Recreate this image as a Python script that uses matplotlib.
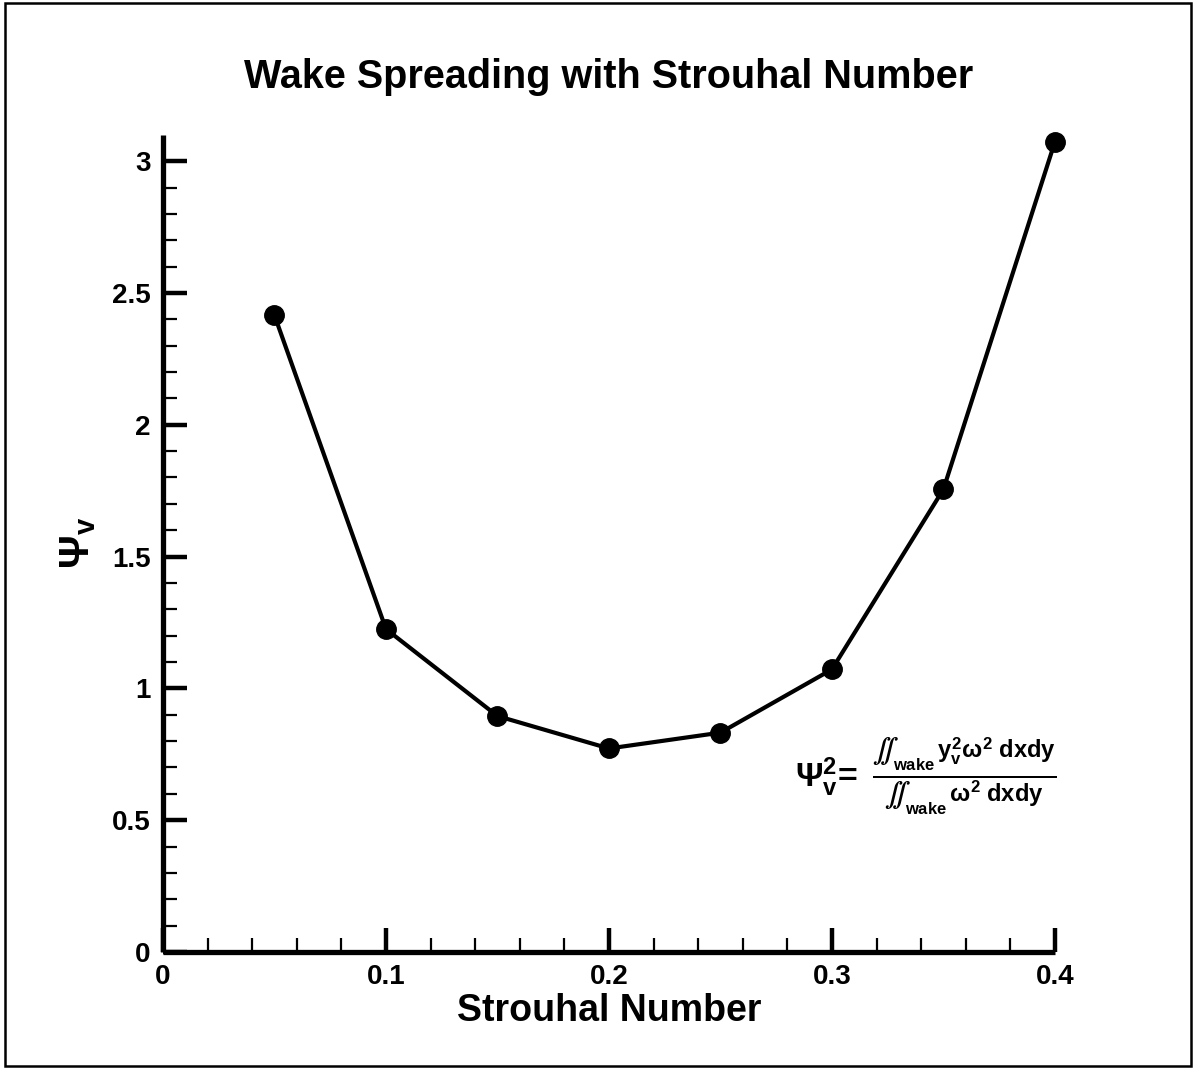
import matplotlib
matplotlib.use("Agg")
import matplotlib.pyplot as plt
from matplotlib.patches import Rectangle
from matplotlib.ticker import FixedLocator, FormatStrFormatter

plt.rcParams['font.family'] = ['Liberation Sans', 'DejaVu Sans']
plt.rcParams['font.weight'] = 'bold'
plt.rcParams['mathtext.fontset'] = 'custom'
plt.rcParams['mathtext.rm'] = 'Liberation Sans:bold'
plt.rcParams['mathtext.it'] = 'Liberation Sans:bold'
plt.rcParams['mathtext.bf'] = 'Liberation Sans:bold'
plt.rcParams['mathtext.sf'] = 'Liberation Sans:bold'

# Wake spreading parameter versus Strouhal number
strouhal = [0.05, 0.10, 0.15, 0.20, 0.25, 0.30, 0.35, 0.40]
psi_v = [2.415, 1.225, 0.895, 0.772, 0.832, 1.072, 1.755, 3.073]

x_ticks = [0.0, 0.1, 0.2, 0.3, 0.4]
y_ticks = [0.0, 0.5, 1.0, 1.5, 2.0, 2.5, 3.0]
x_minor = [i * 0.02 for i in range(21)]
y_minor = [i * 0.1 for i in range(31)]

fig = plt.figure(figsize=(11.96, 10.70), dpi=100)
ax = fig.add_axes([0.1363, 0.1103, 0.7457, 0.7637])

ax.plot(strouhal, psi_v, color='black', lw=3.0, marker='o', ms=14,
        mfc='black', mec='black', clip_on=False, zorder=3)

ax.set_xlim(0, 0.4)
ax.set_ylim(0, 3.1)

for side in ('top', 'right'):
    ax.spines[side].set_visible(False)
for side in ('left', 'bottom'):
    ax.spines[side].set_linewidth(3.8)
    ax.spines[side].set_capstyle('butt')

ax.set_xticks(x_ticks)
ax.set_yticks(y_ticks)
ax.xaxis.set_major_formatter(FormatStrFormatter('%g'))
ax.yaxis.set_major_formatter(FormatStrFormatter('%g'))
ax.xaxis.set_minor_locator(FixedLocator(x_minor))
ax.yaxis.set_minor_locator(FixedLocator(y_minor))
ax.tick_params(which='major', direction='in', length=17, width=3.2,
               labelsize=20, pad=9)
ax.tick_params(which='minor', direction='in', length=10, width=1.6)
for lab in ax.get_xticklabels() + ax.get_yticklabels():
    lab.set_fontweight('bold')

ax.set_xlabel('Strouhal Number', fontsize=27, fontweight='bold', labelpad=2)
ax.set_ylabel(r'$\Psi_v$', fontsize=30, labelpad=10)
ax.set_title('Wake Spreading with Strouhal Number', fontsize=28.5,
             fontweight='bold', pad=34)

ax.text(0.855, 0.215,
        r'$\Psi_v^2\!=\;\frac{\iint_{\mathrm{wake}}\,y_v^2\omega^2\;\mathrm{dxdy}}'
        r'{\iint_{\mathrm{wake}}\,\omega^2\;\mathrm{dxdy}}$',
        transform=ax.transAxes, fontsize=24.5, ha='center', va='center')

fig.patches.append(Rectangle((0.004, 0.004), 0.992, 0.993,
                             transform=fig.transFigure, fill=False,
                             edgecolor='black', lw=1.8))

fig.savefig('out.png', dpi=100)
